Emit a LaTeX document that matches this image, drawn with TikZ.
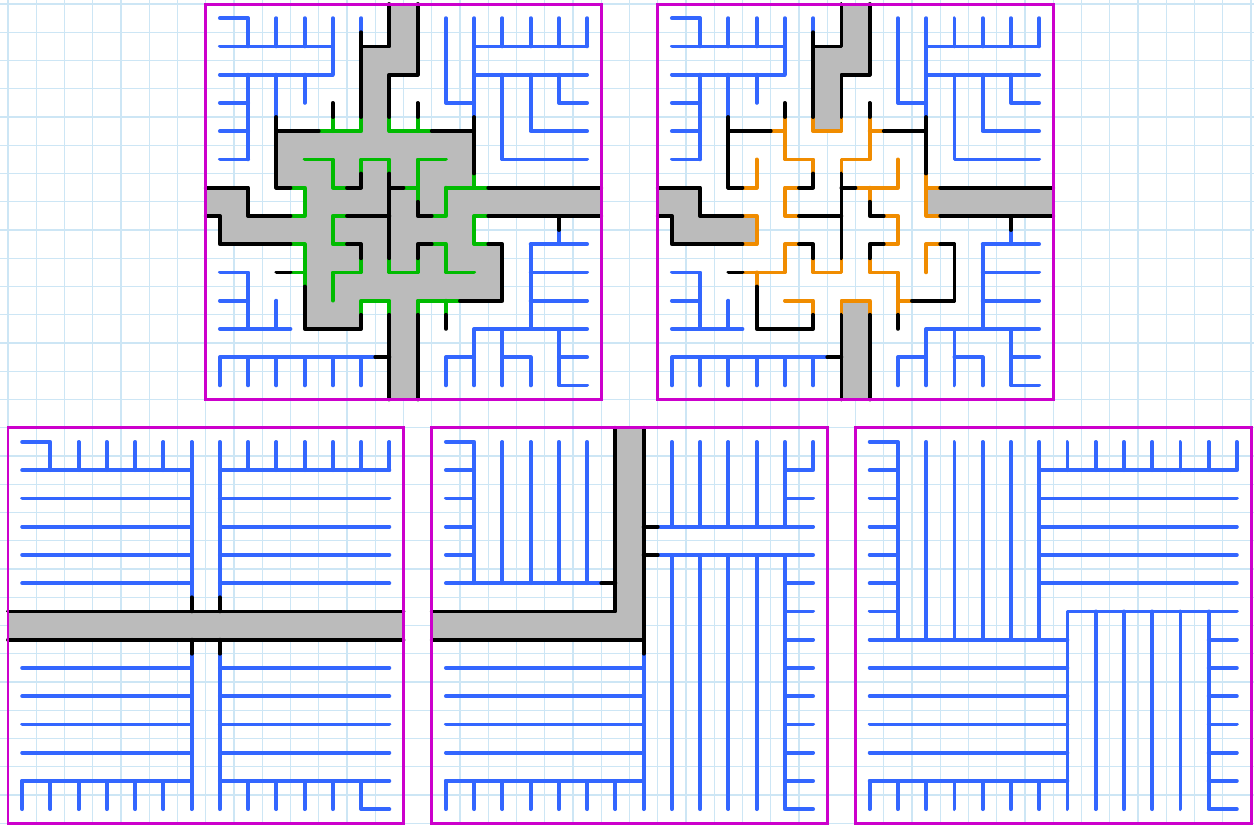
\documentclass[tikz,border=0pt]{standalone}
\usepackage{xcolor}
\definecolor{tblue}{HTML}{3366FF}
\definecolor{tgreen}{HTML}{00BB00}
\definecolor{torange}{HTML}{F08C00}
\definecolor{tgray}{HTML}{BBBBBB}
\definecolor{tmag}{HTML}{CC00CC}
\definecolor{tgrid}{HTML}{CDE6F5}
\tikzset{
  bl/.style={draw=tblue,line width=3.8pt,line cap=round,line join=round},
  bk/.style={draw=black,line width=3.8pt,line cap=round,line join=round},
  gn/.style={draw=tgreen,line width=3.8pt,line cap=round,line join=round},
  og/.style={draw=torange,line width=3.8pt,line cap=round,line join=round},
  pan/.style={draw=tmag,line width=3pt},
  gridl/.style={draw=tgrid,line width=1.2pt},
  grayfill/.style={fill=tgray}
}
\newcommand\topblue{%
 \draw[bl] (0.5,0.5)--(1.5,0.5)--(1.5,1.5) (2.5,0.5)--(2.5,1.5) (3.5,0.5)--(3.5,1.5) (4.5,0.5)--(4.5,2.5)
   (0.5,1.5)--(4.5,1.5) (0.5,2.5)--(4.5,2.5) (1.5,2.5)--(1.5,5.5) (0.5,3.5)--(1.5,3.5) (0.5,4.5)--(1.5,4.5)
   (0.5,5.5)--(1.5,5.5) (2.5,2.5)--(2.5,4) (3.5,2.5)--(3.5,3.5) (5.5,0.5)--(5.5,1);
 \draw[bl] (8.5,0.5)--(8.5,3.5)--(9.5,3.5) (9.5,0.5)--(9.5,4) (9.5,1.5)--(13.5,1.5) (10.5,0.5)--(10.5,1.5)
   (11.5,0.5)--(11.5,1.5) (12.5,0.5)--(12.5,1.5) (13.5,0.5)--(13.5,1.5) (9.5,2.5)--(13.5,2.5)
   (10.5,2.5)--(10.5,5.5)--(13.5,5.5) (11.5,2.5)--(11.5,4.5)--(13.5,4.5) (12.5,2.5)--(12.5,3.5)--(13.5,3.5);
 \draw[bl] (0.5,9.5)--(1.5,9.5)--(1.5,11.5) (0.5,10.5)--(1.5,10.5) (0.5,11.5)--(3,11.5) (2.5,10.5)--(2.5,11.5)
   (0.5,13.5)--(0.5,12.5)--(6,12.5) (1.5,12.5)--(1.5,13.5) (2.5,12.5)--(2.5,13.5) (3.5,12.5)--(3.5,13.5)
   (4.5,12.5)--(4.5,13.5) (5.5,12.5)--(5.5,13.5);
 \draw[bl] (12.5,8)--(12.5,8.5) (11.5,8.5)--(11.5,11.5) (11.5,8.5)--(13.5,8.5) (11.5,9.5)--(13.5,9.5)
   (11.5,10.5)--(13.5,10.5) (9.5,11.5)--(13.5,11.5) (9.5,11.5)--(9.5,13.5) (10.5,11.5)--(10.5,13.5)
   (12.5,11.5)--(12.5,13.5)--(13.5,13.5) (12.5,12.5)--(13.5,12.5) (8.5,13.5)--(8.5,12.5)--(9.5,12.5)
   (10.5,12.5)--(11.5,12.5)--(11.5,13.5);
}
\newcommand\topblack{%
 \draw[bk] (2.5,4)--(2.5,6.5)--(3,6.5) (2.5,4.5)--(4,4.5) (4.5,3.5)--(4.5,4);
 \draw[bk] (5.5,1)--(5.5,4) (5.5,1.5)--(6.5,1.5)--(6.5,0) (7.5,0)--(7.5,2.5)--(6.5,2.5)--(6.5,4);
 \draw[bk] (7.5,3.5)--(7.5,4) (8,4.5)--(9.5,4.5) (9.5,4)--(9.5,6);
 \draw[bk] (5,6.5)--(5.5,6.5)--(5.5,6) (6.5,6)--(6.5,9) (6.5,6.5)--(7,6.5) (5,7.5)--(6.5,7.5)
   (7.5,7)--(7.5,7.5)--(8,7.5) (5,8.5)--(5.5,8.5)--(5.5,9) (7.5,9)--(7.5,8.5)--(8,8.5);
 \draw[bk] (10,6.5)--(14,6.5) (10,7.5)--(14,7.5) (12.5,7.5)--(12.5,8)
   (10,8.5)--(10.5,8.5)--(10.5,10.5)--(9,10.5) (8.5,11)--(8.5,11.5);
 \draw[bk] (0,6.5)--(1.5,6.5)--(1.5,7.5)--(3,7.5) (0,7.5)--(0.5,7.5)--(0.5,8.5)--(3,8.5) (2.5,9.5)--(3,9.5)
   (3.5,10)--(3.5,11.5)--(5.5,11.5)--(5.5,11) (6.5,11)--(6.5,14) (7.5,11)--(7.5,14) (6,12.5)--(6.5,12.5);
}
\begin{document}
\begin{tikzpicture}[x=1cm,y=-1cm]
\useasboundingbox (-0.283,-0.142) rectangle (44.106,29.062);
\fill[white] (-0.283,-0.142) rectangle (44.106,29.062);
% background grid
\foreach \i in {0,...,44} \draw[gridl] (\i,-0.142) -- (\i,29.062);
\foreach \j in {0,...,29} \draw[gridl] (-0.283,\j) -- (44.106,\j);

% ---------- panel 1 (top left) ----------
\begin{scope}[shift={(7,0)}]
 \fill[grayfill] (6.5,0) rectangle (7.5,2.5) (5.5,1.5) rectangle (6.5,4.5) (2.5,4.5) rectangle (9.5,6.5)
   (0,6.5) rectangle (1.5,7.5) (0.5,7.5) rectangle (3.5,8.5) (3.5,6.5) rectangle (14,7.5)
   (3.5,7.5) rectangle (9.5,8.5) (3.5,8.5) rectangle (10.5,10.5) (3.5,10.5) rectangle (5.5,11.5)
   (6.5,10.5) rectangle (7.5,14);
 \topblue
 \draw[gn] (4,4.5)--(5.5,4.5)--(5.5,4) (4.5,4)--(4.5,4.5) (6.5,4)--(6.5,4.5)--(8,4.5) (7.5,4)--(7.5,4.5)
   (9.5,6)--(9.5,6.5) (8.5,6.5)--(10,6.5) (8.5,6.5)--(8.5,7.5)--(8,7.5)
   (3,6.5)--(3.5,6.5)--(3.5,7.5)--(3,7.5)
   (3.5,5.5)--(4.5,5.5)--(4.5,6.5)--(5,6.5)
   (5.5,6)--(5.5,5.5)--(6.5,5.5)--(6.5,6)
   (7,6.5)--(7.5,6.5)--(7.5,7) (7.5,6.5)--(7.5,5.5)--(8.5,5.5)
   (5,7.5)--(4.5,7.5)--(4.5,8.5)--(5,8.5)
   (5.5,9)--(5.5,9.5)--(4.5,9.5)--(4.5,10.5)
   (6.5,9)--(6.5,9.5)--(7.5,9.5)--(7.5,9)
   (8,8.5)--(8.5,8.5)--(8.5,9.5)--(9.5,9.5)
   (10,7.5)--(9.5,7.5)--(9.5,8.5)--(10,8.5)
   (9,10.5)--(7.5,10.5)--(7.5,11) (8.5,10.5)--(8.5,11)
   (3,8.5)--(3.5,8.5)--(3.5,10) (3,9.5)--(3.5,9.5)
   (5.5,11)--(5.5,10.5)--(6.5,10.5)--(6.5,11);
 \topblack
 \draw[pan] (0,0) rectangle (14,14);
\end{scope}

% ---------- panel 2 (top right) ----------
\begin{scope}[shift={(23,0)}]
 \fill[grayfill] (6.5,0) rectangle (7.5,2.5) (5.5,1.5) rectangle (6.5,4.5) (0,6.5) rectangle (1.5,7.5)
   (0.5,7.5) rectangle (3.5,8.5) (9.5,6.5) rectangle (14,7.5) (6.5,10.5) rectangle (7.5,14);
 \topblue
 \draw[og] (4,4.5)--(4.5,4.5) (4.5,4)--(4.5,5.5)--(5.5,5.5)--(5.5,6)
   (5,6.5)--(4.5,6.5)--(4.5,7.5)--(5,7.5)
   (3.5,5.5)--(3.5,6.5)--(3,6.5)
   (5.5,4)--(5.5,4.5)--(6.5,4.5)--(6.5,4)
   (6.5,6)--(6.5,5.5)--(7.5,5.5)--(7.5,4)
   (7.5,4.5)--(8,4.5)
   (7,6.5)--(8.5,6.5)--(8.5,5.5)
   (7.5,6.5)--(7.5,7)
   (8,7.5)--(8.5,7.5)--(8.5,8.5)--(8,8.5)
   (7.5,9)--(7.5,9.5)--(8.5,9.5)--(8.5,10.5)--(9,10.5)
   (10,8.5)--(9.5,8.5)--(9.5,9.5)
   (8.5,10.5)--(8.5,11)
   (9.5,6)--(9.5,7.5) (9.5,6.5)--(10,6.5) (9.5,7.5)--(10,7.5)
   (3,7.5)--(3.5,7.5)--(3.5,8.5)--(3,8.5)
   (3,9.5)--(4.5,9.5)--(4.5,8.5)--(5,8.5)
   (5.5,9)--(5.5,9.5)--(6.5,9.5)--(6.5,9)
   (3.5,9.5)--(3.5,10)
   (5.5,11)--(5.5,10.5)--(4.5,10.5)
   (6.5,11)--(6.5,10.5)--(7.5,10.5)--(7.5,11);
 \topblack
 \draw[pan] (0,0) rectangle (14,14);
\end{scope}

% ---------- panel 3 (bottom left) ----------
\begin{scope}[shift={(0,15)}]
 \fill[grayfill] (0,6.5) rectangle (14,7.5);
 \draw[bl] (0.5,0.5)--(1.5,0.5)--(1.5,1.5) (6.5,0.5)--(6.5,6) (7.5,0.5)--(7.5,6)
   (13.5,0.5)--(13.5,1.5) (6.5,8)--(6.5,13.5) (7.5,8)--(7.5,13.5)
   (0.5,12.5)--(6.5,12.5) (7.5,12.5)--(13.5,12.5) (12.5,12.5)--(12.5,13.5)--(13.5,13.5);
 \foreach \i in {2,...,5} \draw[bl] (\i+0.5,0.5)--(\i+0.5,1.5);
 \foreach \i in {8,...,12} \draw[bl] (\i+0.5,0.5)--(\i+0.5,1.5);
 \foreach \j in {1,...,5} \draw[bl] (0.5,\j+0.5)--(6.5,\j+0.5) (7.5,\j+0.5)--(13.5,\j+0.5);
 \foreach \j in {8,...,11} \draw[bl] (0.5,\j+0.5)--(6.5,\j+0.5) (7.5,\j+0.5)--(13.5,\j+0.5);
 \foreach \i in {0,...,5} \draw[bl] (\i+0.5,12.5)--(\i+0.5,13.5);
 \foreach \i in {8,...,11} \draw[bl] (\i+0.5,12.5)--(\i+0.5,13.5);
 \draw[bk] (0,6.5)--(14,6.5) (0,7.5)--(14,7.5) (6.5,6)--(6.5,6.5) (7.5,6)--(7.5,6.5)
   (6.5,7.5)--(6.5,8) (7.5,7.5)--(7.5,8);
 \draw[pan] (0,0) rectangle (14,14);
\end{scope}

% ---------- panel 4 (bottom middle) ----------
\begin{scope}[shift={(15,15)}]
 \fill[grayfill] (6.5,0) rectangle (7.5,7.5) (0,6.5) rectangle (6.5,7.5);
 \draw[bl] (0.5,0.5)--(1.5,0.5)--(1.5,5.5) (0.5,5.5)--(6,5.5);
 \foreach \j in {1,...,4} \draw[bl] (0.5,\j+0.5)--(1.5,\j+0.5);
 \foreach \i in {2,...,5} \draw[bl] (\i+0.5,0.5)--(\i+0.5,5.5);
 \draw[bl] (8,3.5)--(13.5,3.5) (12.5,0.5)--(12.5,3.5) (12.5,1.5)--(13.5,1.5)--(13.5,0.5) (12.5,2.5)--(13.5,2.5);
 \foreach \i in {8,...,11} \draw[bl] (\i+0.5,0.5)--(\i+0.5,3.5);
 \draw[bl] (8,4.5)--(13.5,4.5) (12.5,4.5)--(12.5,13.5)--(13.5,13.5);
 \foreach \i in {8,...,11} \draw[bl] (\i+0.5,4.5)--(\i+0.5,13.5);
 \foreach \j in {5,...,12} \draw[bl] (12.5,\j+0.5)--(13.5,\j+0.5);
 \draw[bl] (7.5,8)--(7.5,13.5) (0.5,12.5)--(7.5,12.5);
 \foreach \j in {8,...,11} \draw[bl] (0.5,\j+0.5)--(7.5,\j+0.5);
 \foreach \i in {0,...,6} \draw[bl] (\i+0.5,12.5)--(\i+0.5,13.5);
 \draw[bk] (6,5.5)--(6.5,5.5) (6.5,0)--(6.5,6.5)--(0,6.5) (7.5,0)--(7.5,8) (0,7.5)--(7.5,7.5)
   (7.5,3.5)--(8,3.5) (7.5,4.5)--(8,4.5);
 \draw[pan] (0,0) rectangle (14,14);
\end{scope}

% ---------- panel 5 (bottom right) ----------
\begin{scope}[shift={(30,15)}]
 \draw[bl] (0.5,0.5)--(1.5,0.5)--(1.5,7.5) (0.5,7.5)--(7.5,7.5);
 \foreach \j in {1,...,6} \draw[bl] (0.5,\j+0.5)--(1.5,\j+0.5);
 \foreach \i in {2,...,6} \draw[bl] (\i+0.5,0.5)--(\i+0.5,7.5);
 \draw[bl] (6.5,1.5)--(13.5,1.5) (13.5,0.5)--(13.5,1.5);
 \foreach \i in {7,...,12} \draw[bl] (\i+0.5,0.5)--(\i+0.5,1.5);
 \foreach \j in {2,...,5} \draw[bl] (6.5,\j+0.5)--(13.5,\j+0.5);
 \draw[bl] (7.5,13.5)--(7.5,6.5)--(13.5,6.5) (12.5,6.5)--(12.5,13.5)--(13.5,13.5);
 \foreach \i in {8,...,11} \draw[bl] (\i+0.5,6.5)--(\i+0.5,13.5);
 \foreach \j in {7,...,12} \draw[bl] (12.5,\j+0.5)--(13.5,\j+0.5);
 \foreach \j in {8,...,11} \draw[bl] (0.5,\j+0.5)--(7.5,\j+0.5);
 \draw[bl] (0.5,12.5)--(7.5,12.5);
 \foreach \i in {0,...,6} \draw[bl] (\i+0.5,12.5)--(\i+0.5,13.5);
 \draw[pan] (0,0) rectangle (14,14);
\end{scope}
\end{tikzpicture}
\end{document}
